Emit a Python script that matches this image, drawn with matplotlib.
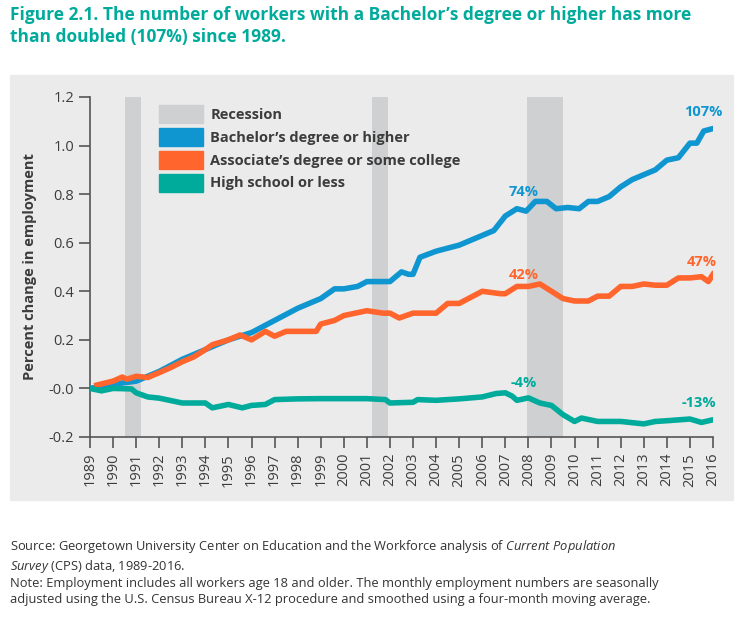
import matplotlib.pyplot as plt
from matplotlib.patches import Rectangle, Patch

# data (fractional change since 1989)
ba_x = [1989, 1990, 1991, 1992, 1993, 1994, 1995, 1996, 1997, 1998, 1999, 1999.6, 2000, 2000.6,
        2001, 2002, 2002.5, 2002.8, 2003, 2003.3, 2004, 2005, 2006, 2006.5, 2007, 2007.5, 2007.9,
        2008.3, 2008.8, 2009.2, 2009.7, 2010.2, 2010.6, 2011, 2011.5, 2012, 2012.5, 2013, 2013.5,
        2014, 2014.5, 2015, 2015.3, 2015.6, 2016]
ba_y = [0.0, 0.017, 0.03, 0.07, 0.12, 0.16, 0.20, 0.23, 0.28, 0.33, 0.37, 0.41, 0.41, 0.42,
        0.44, 0.44, 0.48, 0.47, 0.47, 0.54, 0.565, 0.59, 0.63, 0.65, 0.71, 0.74, 0.73,
        0.77, 0.77, 0.74, 0.745, 0.74, 0.77, 0.77, 0.79, 0.83, 0.86, 0.88, 0.90,
        0.94, 0.95, 1.01, 1.01, 1.06, 1.07]
as_x = [1989.3, 1990, 1990.4, 1990.6, 1991, 1991.5, 1992, 1992.5, 1993, 1993.5, 1994, 1994.3, 1995,
        1995.5, 1996, 1996.6, 1997, 1997.5, 1998, 1998.8, 1999, 1999.6, 2000, 2000.5, 2001, 2001.7,
        2002, 2002.4, 2003, 2004, 2004.5, 2005, 2005.6, 2006, 2006.8, 2007, 2007.5, 2008, 2008.5,
        2009, 2009.5, 2010, 2010.6, 2011, 2011.5, 2012, 2012.5, 2013, 2013.5, 2014, 2014.5, 2015,
        2015.5, 2015.8, 2016]
as_y = [0.014, 0.03, 0.047, 0.038, 0.05, 0.045, 0.065, 0.086, 0.11, 0.13, 0.16, 0.18, 0.20,
        0.22, 0.20, 0.235, 0.215, 0.235, 0.235, 0.235, 0.265, 0.28, 0.30, 0.31, 0.32, 0.31,
        0.31, 0.29, 0.31, 0.31, 0.35, 0.35, 0.38, 0.40, 0.39, 0.39, 0.42, 0.42, 0.43,
        0.40, 0.37, 0.36, 0.36, 0.38, 0.38, 0.42, 0.42, 0.43, 0.425, 0.425, 0.455, 0.455,
        0.46, 0.44, 0.47]
hs_x = [1989, 1989.5, 1990, 1990.8, 1991, 1991.5, 1992, 1993, 1994, 1994.3, 1995, 1995.6, 1996,
        1996.6, 1997, 1998, 1999, 2000, 2001, 2001.8, 2002, 2003, 2003.2, 2004, 2005, 2006, 2006.6,
        2007, 2007.3, 2007.5, 2008, 2008.5, 2009, 2009.5, 2010, 2010.3, 2011, 2012, 2013, 2013.5,
        2014, 2015, 2015.5, 2016]
hs_y = [0.0, -0.01, 0.0, -0.002, -0.018, -0.035, -0.04, -0.06, -0.06, -0.08, -0.066, -0.08, -0.07,
        -0.066, -0.046, -0.043, -0.042, -0.042, -0.042, -0.046, -0.06, -0.057, -0.046, -0.049, -0.043,
        -0.035, -0.021, -0.018, -0.032, -0.049, -0.039, -0.06, -0.07, -0.108, -0.136, -0.122, -0.136,
        -0.136, -0.146, -0.136, -0.133, -0.126, -0.14, -0.129]
recessions = [(1990.5, 1991.2), (2001.2, 2001.9), (2007.95, 2009.5)]
years = list(range(1989, 2017))
yticks = [-0.2, 0.0, 0.2, 0.4, 0.6, 0.8, 1.0, 1.2]
ytick_labels = ['-0.2', '-0.0', '0.2', '0.4', '0.6', '0.8', '1.0', '1.2']

BLUE = '#0f96d1'
ORANGE = '#ff652c'
TEAL = '#00ab9b'
GRAY = '#cfd0d2'
TXT = '#3c3c3c'

plt.rcParams['font.family'] = ['Open Sans', 'DejaVu Sans']
plt.rcParams['mathtext.fontset'] = 'custom'
plt.rcParams['mathtext.it'] = 'Open Sans:italic'
plt.rcParams['mathtext.rm'] = 'Open Sans'

fig = plt.figure(figsize=(7.47, 6.2), dpi=100)
fig.patches.append(Rectangle((10 / 747, 1 - 500 / 620), 723 / 747, 425 / 620,
                             transform=fig.transFigure, color='#ebebeb', zorder=-5))
fig.text(10 / 747, 1 - 6 / 620,
         'Figure 2.1. The number of workers with a Bachelor\u2019s degree or higher has more\nthan doubled (107%) since 1989.',
         color=TEAL, fontsize=12.5, fontweight='bold', va='top', linespacing=1.3)

ax = fig.add_axes([90 / 747, 1 - 437 / 620, 623 / 747, 340 / 620])
ax.set_zorder(2)
ax.set_facecolor('none')
for a, b in recessions:
    ax.axvspan(a, b, color=GRAY, lw=0, zorder=1)
ax.plot(ba_x, ba_y, color=BLUE, lw=4, zorder=3)
ax.plot(as_x, as_y, color=ORANGE, lw=4, zorder=3)
ax.plot(hs_x, hs_y, color=TEAL, lw=4, zorder=3)

ax.set_xlim(1989, 2016)
ax.set_ylim(-0.2, 1.2)
ax.set_xticks(years)
ax.set_xticklabels([str(y) for y in years], rotation=90, fontsize=10.5, color=TXT)
ax.set_yticks(yticks)
ax.set_yticklabels(ytick_labels, fontsize=10.5, color=TXT)
ax.tick_params(direction='out', length=8, width=1.2, color='#555555')
for s in ['top', 'right']:
    ax.spines[s].set_visible(False)
for s in ['left', 'bottom']:
    ax.spines[s].set_color('#555555')
    ax.spines[s].set_linewidth(1.2)
ax.set_ylabel('Percent change in employment', fontsize=10.5, fontweight='bold', color=TXT, labelpad=8)

ax.text(2015.6, 1.11, '107%', color=BLUE, fontsize=10.5, fontweight='bold', ha='center', va='bottom')
ax.text(2007.8, 0.78, '74%', color=BLUE, fontsize=10.5, fontweight='bold', ha='center', va='bottom')
ax.text(2007.8, 0.44, '42%', color=ORANGE, fontsize=10.5, fontweight='bold', ha='center', va='bottom')
ax.text(2015.5, 0.49, '47%', color=ORANGE, fontsize=10.5, fontweight='bold', ha='center', va='bottom')
ax.text(2007.8, -0.005, '-4%', color=TEAL, fontsize=10.5, fontweight='bold', ha='center', va='bottom')
ax.text(2015.4, -0.09, '-13%', color=TEAL, fontsize=10.5, fontweight='bold', ha='center', va='bottom')

handles = [Patch(color=GRAY), Patch(color=BLUE), Patch(color=ORANGE), Patch(color=TEAL)]
labels = ['Recession', "Bachelor\u2019s degree or higher", "Associate\u2019s degree or some college",
          'High school or less']
leg = ax.legend(handles, labels, loc='upper left', bbox_to_anchor=(0.09, 1.015), frameon=False,
                handlelength=3, handleheight=1.5, handletextpad=0.5, labelspacing=0.35,
                prop={'size': 10.5, 'weight': 'bold'})
for t in leg.get_texts():
    t.set_color(TXT)

fig.text(10 / 747, 1 - 538 / 620,
         'Source: Georgetown University Center on Education and the Workforce analysis of $\\it{Current\\ Population}$\n'
         '$\\it{Survey}$ (CPS) data, 1989-2016.\n'
         'Note: Employment includes all workers age 18 and older. The monthly employment numbers are seasonally\n'
         'adjusted using the U.S. Census Bureau X-12 procedure and smoothed using a four-month moving average.',
         fontsize=9.3, color='#333333', va='top', linespacing=1.25)

fig.savefig('out.png', dpi=100)
